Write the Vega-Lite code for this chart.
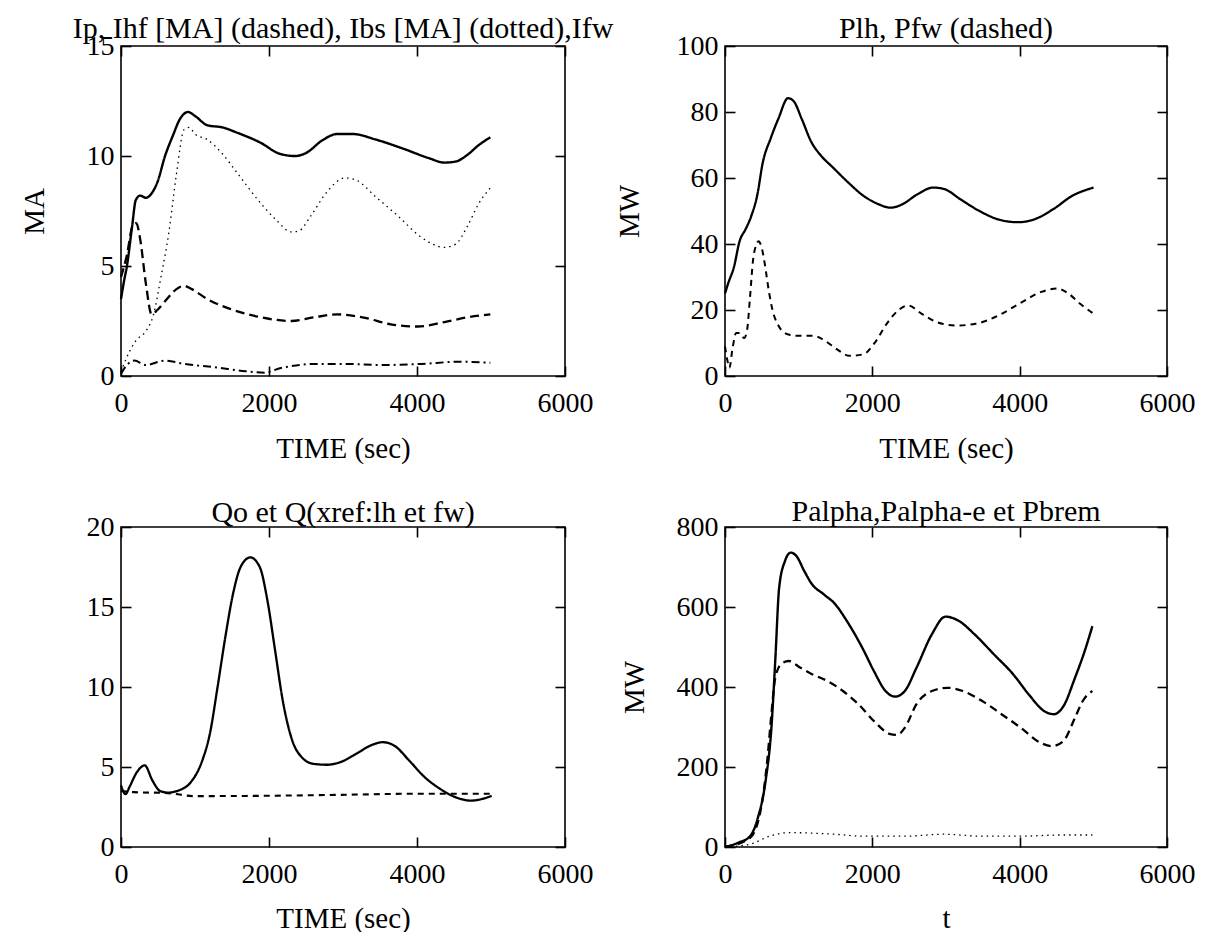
{
 "$schema": "https://vega.github.io/schema/vega-lite/v6.json",
 "background": "white",
 "padding": {"left": 19, "top": 13, "right": 5, "bottom": 0},
 "config": {
  "font": "Liberation Serif",
  "view": {"stroke": "black", "strokeWidth": 1.6},
  "axis": {"labelFont": "Liberation Serif", "labelFontSize": 28, "labelColor": "black", "titleFont": "Liberation Serif", "titleFontSize": 29, "titleFontWeight": "normal", "titleColor": "black", "domain": false, "grid": false, "tickColor": "black", "tickWidth": 1.6, "tickSize": -10, "labelFlush": false, "labelOverlap": false, "format": "d"},
  "axisX": {"labelPadding": 23},
  "axisY": {"labelPadding": 17},
  "title": {"font": "Liberation Serif", "fontSize": 30, "fontWeight": "normal", "color": "black"},
  "line": {"color": "black"}
 },
 "datasets": {
  "p1": [
   {"t":0,"v":3.5,"s":"Ip"},{"t":40,"v":4.3,"s":"Ip"},{"t":80,"v":5.0,"s":"Ip"},{"t":150,"v":6.8,"s":"Ip"},{"t":200,"v":8.0,"s":"Ip"},{"t":260,"v":8.2,"s":"Ip"},{"t":336,"v":8.1,"s":"Ip"},{"t":414,"v":8.3,"s":"Ip"},{"t":491,"v":8.8,"s":"Ip"},{"t":595,"v":10.0,"s":"Ip"},{"t":698,"v":10.9,"s":"Ip"},{"t":800,"v":11.7,"s":"Ip"},{"t":905,"v":12.0,"s":"Ip"},{"t":1008,"v":11.8,"s":"Ip"},{"t":1164,"v":11.4,"s":"Ip"},{"t":1370,"v":11.3,"s":"Ip"},{"t":1577,"v":11.05,"s":"Ip"},{"t":1888,"v":10.6,"s":"Ip"},{"t":2146,"v":10.1,"s":"Ip"},{"t":2353,"v":10.0,"s":"Ip"},{"t":2508,"v":10.15,"s":"Ip"},{"t":2715,"v":10.7,"s":"Ip"},{"t":2922,"v":11.0,"s":"Ip"},{"t":3130,"v":11.0,"s":"Ip"},{"t":3440,"v":10.75,"s":"Ip"},{"t":3800,"v":10.35,"s":"Ip"},{"t":4163,"v":9.9,"s":"Ip"},{"t":4370,"v":9.7,"s":"Ip"},{"t":4525,"v":9.75,"s":"Ip"},{"t":4680,"v":10.05,"s":"Ip"},{"t":4836,"v":10.5,"s":"Ip"},{"t":4991,"v":10.85,"s":"Ip"},
   {"t":0,"v":4.5,"s":"Ihf"},{"t":80,"v":5.5,"s":"Ihf"},{"t":155,"v":6.8,"s":"Ihf"},{"t":207,"v":6.95,"s":"Ihf"},{"t":260,"v":6.2,"s":"Ihf"},{"t":336,"v":4.2,"s":"Ihf"},{"t":414,"v":2.8,"s":"Ihf"},{"t":491,"v":3.0,"s":"Ihf"},{"t":595,"v":3.4,"s":"Ihf"},{"t":750,"v":3.95,"s":"Ihf"},{"t":853,"v":4.1,"s":"Ihf"},{"t":957,"v":3.95,"s":"Ihf"},{"t":1164,"v":3.5,"s":"Ihf"},{"t":1474,"v":3.05,"s":"Ihf"},{"t":1888,"v":2.67,"s":"Ihf"},{"t":2300,"v":2.5,"s":"Ihf"},{"t":2612,"v":2.67,"s":"Ihf"},{"t":2922,"v":2.8,"s":"Ihf"},{"t":3284,"v":2.65,"s":"Ihf"},{"t":3646,"v":2.35,"s":"Ihf"},{"t":4008,"v":2.25,"s":"Ihf"},{"t":4370,"v":2.45,"s":"Ihf"},{"t":4680,"v":2.67,"s":"Ihf"},{"t":4991,"v":2.8,"s":"Ihf"},
   {"t":0,"v":0.2,"s":"Ibs"},{"t":40,"v":0.55,"s":"Ibs"},{"t":200,"v":1.6,"s":"Ibs"},{"t":338,"v":2.05,"s":"Ibs"},{"t":440,"v":2.8,"s":"Ibs"},{"t":540,"v":4.5,"s":"Ibs"},{"t":646,"v":6.5,"s":"Ibs"},{"t":750,"v":9.2,"s":"Ibs"},{"t":853,"v":11.2,"s":"Ibs"},{"t":920,"v":11.3,"s":"Ibs"},{"t":1000,"v":11.0,"s":"Ibs"},{"t":1164,"v":10.75,"s":"Ibs"},{"t":1370,"v":10.1,"s":"Ibs"},{"t":1577,"v":9.2,"s":"Ibs"},{"t":1888,"v":7.85,"s":"Ibs"},{"t":2095,"v":7.1,"s":"Ibs"},{"t":2300,"v":6.55,"s":"Ibs"},{"t":2405,"v":6.6,"s":"Ibs"},{"t":2560,"v":7.25,"s":"Ibs"},{"t":2767,"v":8.3,"s":"Ibs"},{"t":3026,"v":9.0,"s":"Ibs"},{"t":3180,"v":8.9,"s":"Ibs"},{"t":3440,"v":8.15,"s":"Ibs"},{"t":3750,"v":7.25,"s":"Ibs"},{"t":4060,"v":6.3,"s":"Ibs"},{"t":4370,"v":5.85,"s":"Ibs"},{"t":4525,"v":6.0,"s":"Ibs"},{"t":4680,"v":6.8,"s":"Ibs"},{"t":4836,"v":7.85,"s":"Ibs"},{"t":4991,"v":8.55,"s":"Ibs"},
   {"t":0,"v":0.1,"s":"Ifw"},{"t":80,"v":0.5,"s":"Ifw"},{"t":181,"v":0.7,"s":"Ifw"},{"t":336,"v":0.5,"s":"Ifw"},{"t":595,"v":0.7,"s":"Ifw"},{"t":853,"v":0.55,"s":"Ifw"},{"t":1267,"v":0.4,"s":"Ifw"},{"t":1680,"v":0.22,"s":"Ifw"},{"t":1940,"v":0.15,"s":"Ifw"},{"t":2146,"v":0.35,"s":"Ifw"},{"t":2663,"v":0.55,"s":"Ifw"},{"t":3026,"v":0.55,"s":"Ifw"},{"t":3543,"v":0.5,"s":"Ifw"},{"t":4060,"v":0.55,"s":"Ifw"},{"t":4577,"v":0.65,"s":"Ifw"},{"t":4991,"v":0.6,"s":"Ifw"}
  ],
  "p2": [
   {"t":0,"v":25,"s":"Plh"},{"t":42,"v":28,"s":"Plh"},{"t":121,"v":33,"s":"Plh"},{"t":200,"v":41,"s":"Plh"},{"t":278,"v":44.4,"s":"Plh"},{"t":357,"v":48.5,"s":"Plh"},{"t":436,"v":54.6,"s":"Plh"},{"t":514,"v":64.8,"s":"Plh"},{"t":620,"v":72,"s":"Plh"},{"t":725,"v":78,"s":"Plh"},{"t":856,"v":84.2,"s":"Plh"},{"t":935,"v":83.2,"s":"Plh"},{"t":1040,"v":78,"s":"Plh"},{"t":1170,"v":71,"s":"Plh"},{"t":1302,"v":66.8,"s":"Plh"},{"t":1460,"v":63.3,"s":"Plh"},{"t":1670,"v":58.7,"s":"Plh"},{"t":1880,"v":54.6,"s":"Plh"},{"t":2090,"v":52,"s":"Plh"},{"t":2247,"v":51,"s":"Plh"},{"t":2404,"v":52,"s":"Plh"},{"t":2614,"v":55.1,"s":"Plh"},{"t":2825,"v":57.1,"s":"Plh"},{"t":2982,"v":56.6,"s":"Plh"},{"t":3192,"v":53.6,"s":"Plh"},{"t":3454,"v":50,"s":"Plh"},{"t":3717,"v":47.4,"s":"Plh"},{"t":3980,"v":46.6,"s":"Plh"},{"t":4190,"v":47.4,"s":"Plh"},{"t":4452,"v":50.5,"s":"Plh"},{"t":4714,"v":54.6,"s":"Plh"},{"t":5003,"v":57.1,"s":"Plh"},
   {"t":0,"v":9,"s":"Pfw"},{"t":30,"v":5,"s":"Pfw"},{"t":60,"v":2.5,"s":"Pfw"},{"t":100,"v":8,"s":"Pfw"},{"t":150,"v":13,"s":"Pfw"},{"t":200,"v":13,"s":"Pfw"},{"t":260,"v":11.5,"s":"Pfw"},{"t":300,"v":14,"s":"Pfw"},{"t":340,"v":24,"s":"Pfw"},{"t":380,"v":35,"s":"Pfw"},{"t":420,"v":39.5,"s":"Pfw"},{"t":455,"v":40.8,"s":"Pfw"},{"t":490,"v":39.5,"s":"Pfw"},{"t":540,"v":34,"s":"Pfw"},{"t":593,"v":26,"s":"Pfw"},{"t":646,"v":19.9,"s":"Pfw"},{"t":725,"v":15.3,"s":"Pfw"},{"t":830,"v":12.8,"s":"Pfw"},{"t":987,"v":12.2,"s":"Pfw"},{"t":1197,"v":12.2,"s":"Pfw"},{"t":1355,"v":10.7,"s":"Pfw"},{"t":1512,"v":8.2,"s":"Pfw"},{"t":1696,"v":6.1,"s":"Pfw"},{"t":1880,"v":6.6,"s":"Pfw"},{"t":2037,"v":10.2,"s":"Pfw"},{"t":2194,"v":15.8,"s":"Pfw"},{"t":2352,"v":19.9,"s":"Pfw"},{"t":2483,"v":21.4,"s":"Pfw"},{"t":2667,"v":18.9,"s":"Pfw"},{"t":2877,"v":16.3,"s":"Pfw"},{"t":3140,"v":15.3,"s":"Pfw"},{"t":3400,"v":15.8,"s":"Pfw"},{"t":3717,"v":18.4,"s":"Pfw"},{"t":4032,"v":22.4,"s":"Pfw"},{"t":4295,"v":25.5,"s":"Pfw"},{"t":4505,"v":26.5,"s":"Pfw"},{"t":4662,"v":25,"s":"Pfw"},{"t":4820,"v":21.9,"s":"Pfw"},{"t":5003,"v":18.9,"s":"Pfw"}
  ],
  "p3": [
   {"t":0,"v":3.85,"s":"Qo"},{"t":62,"v":3.3,"s":"Qo"},{"t":114,"v":3.75,"s":"Qo"},{"t":218,"v":4.7,"s":"Qo"},{"t":321,"v":5.1,"s":"Qo"},{"t":425,"v":4.15,"s":"Qo"},{"t":528,"v":3.5,"s":"Qo"},{"t":632,"v":3.4,"s":"Qo"},{"t":787,"v":3.55,"s":"Qo"},{"t":943,"v":4.05,"s":"Qo"},{"t":1098,"v":5.4,"s":"Qo"},{"t":1202,"v":7.1,"s":"Qo"},{"t":1305,"v":10.0,"s":"Qo"},{"t":1409,"v":13.1,"s":"Qo"},{"t":1513,"v":15.8,"s":"Qo"},{"t":1616,"v":17.5,"s":"Qo"},{"t":1746,"v":18.1,"s":"Qo"},{"t":1875,"v":17.5,"s":"Qo"},{"t":1979,"v":15.4,"s":"Qo"},{"t":2082,"v":12.3,"s":"Qo"},{"t":2186,"v":9.15,"s":"Qo"},{"t":2315,"v":6.65,"s":"Qo"},{"t":2445,"v":5.6,"s":"Qo"},{"t":2600,"v":5.2,"s":"Qo"},{"t":2782,"v":5.14,"s":"Qo"},{"t":2963,"v":5.3,"s":"Qo"},{"t":3170,"v":5.8,"s":"Qo"},{"t":3377,"v":6.35,"s":"Qo"},{"t":3533,"v":6.55,"s":"Qo"},{"t":3688,"v":6.35,"s":"Qo"},{"t":3895,"v":5.4,"s":"Qo"},{"t":4103,"v":4.37,"s":"Qo"},{"t":4310,"v":3.64,"s":"Qo"},{"t":4517,"v":3.12,"s":"Qo"},{"t":4724,"v":2.9,"s":"Qo"},{"t":4880,"v":3.0,"s":"Qo"},{"t":5009,"v":3.2,"s":"Qo"},
   {"t":0,"v":3.5,"s":"Q"},{"t":166,"v":3.43,"s":"Q"},{"t":632,"v":3.37,"s":"Q"},{"t":995,"v":3.18,"s":"Q"},{"t":1927,"v":3.2,"s":"Q"},{"t":2963,"v":3.26,"s":"Q"},{"t":4000,"v":3.33,"s":"Q"},{"t":4517,"v":3.33,"s":"Q"},{"t":5009,"v":3.33,"s":"Q"}
  ],
  "p4": [
   {"t":0,"v":0,"s":"Palpha"},{"t":184,"v":11,"s":"Palpha"},{"t":341,"v":27,"s":"Palpha"},{"t":446,"v":73,"s":"Palpha"},{"t":551,"v":165,"s":"Palpha"},{"t":630,"v":298,"s":"Palpha"},{"t":682,"v":465,"s":"Palpha"},{"t":735,"v":648,"s":"Palpha"},{"t":814,"v":715,"s":"Palpha"},{"t":892,"v":736,"s":"Palpha"},{"t":971,"v":727,"s":"Palpha"},{"t":1076,"v":690,"s":"Palpha"},{"t":1181,"v":657,"s":"Palpha"},{"t":1339,"v":632,"s":"Palpha"},{"t":1496,"v":607,"s":"Palpha"},{"t":1654,"v":565,"s":"Palpha"},{"t":1864,"v":498,"s":"Palpha"},{"t":2021,"v":440,"s":"Palpha"},{"t":2179,"v":390,"s":"Palpha"},{"t":2310,"v":376,"s":"Palpha"},{"t":2441,"v":390,"s":"Palpha"},{"t":2599,"v":448,"s":"Palpha"},{"t":2809,"v":532,"s":"Palpha"},{"t":2993,"v":576,"s":"Palpha"},{"t":3176,"v":565,"s":"Palpha"},{"t":3386,"v":532,"s":"Palpha"},{"t":3649,"v":482,"s":"Palpha"},{"t":3911,"v":432,"s":"Palpha"},{"t":4121,"v":382,"s":"Palpha"},{"t":4331,"v":340,"s":"Palpha"},{"t":4462,"v":332,"s":"Palpha"},{"t":4594,"v":352,"s":"Palpha"},{"t":4751,"v":423,"s":"Palpha"},{"t":4883,"v":490,"s":"Palpha"},{"t":4987,"v":552,"s":"Palpha"},
   {"t":0,"v":0,"s":"Palpha-e"},{"t":341,"v":23,"s":"Palpha-e"},{"t":499,"v":107,"s":"Palpha-e"},{"t":577,"v":223,"s":"Palpha-e"},{"t":630,"v":332,"s":"Palpha-e"},{"t":682,"v":423,"s":"Palpha-e"},{"t":761,"v":457,"s":"Palpha-e"},{"t":866,"v":465,"s":"Palpha-e"},{"t":1024,"v":448,"s":"Palpha-e"},{"t":1181,"v":432,"s":"Palpha-e"},{"t":1391,"v":415,"s":"Palpha-e"},{"t":1601,"v":390,"s":"Palpha-e"},{"t":1811,"v":357,"s":"Palpha-e"},{"t":2021,"v":315,"s":"Palpha-e"},{"t":2231,"v":283,"s":"Palpha-e"},{"t":2336,"v":280,"s":"Palpha-e"},{"t":2441,"v":298,"s":"Palpha-e"},{"t":2599,"v":357,"s":"Palpha-e"},{"t":2809,"v":390,"s":"Palpha-e"},{"t":3019,"v":398,"s":"Palpha-e"},{"t":3229,"v":390,"s":"Palpha-e"},{"t":3491,"v":365,"s":"Palpha-e"},{"t":3754,"v":332,"s":"Palpha-e"},{"t":4016,"v":298,"s":"Palpha-e"},{"t":4279,"v":261,"s":"Palpha-e"},{"t":4436,"v":252,"s":"Palpha-e"},{"t":4594,"v":265,"s":"Palpha-e"},{"t":4751,"v":323,"s":"Palpha-e"},{"t":4856,"v":365,"s":"Palpha-e"},{"t":4987,"v":390,"s":"Palpha-e"},
   {"t":0,"v":0,"s":"Pbrem"},{"t":341,"v":7,"s":"Pbrem"},{"t":604,"v":27,"s":"Pbrem"},{"t":866,"v":36,"s":"Pbrem"},{"t":1391,"v":33,"s":"Pbrem"},{"t":1916,"v":27,"s":"Pbrem"},{"t":2441,"v":27,"s":"Pbrem"},{"t":2966,"v":32,"s":"Pbrem"},{"t":3491,"v":27,"s":"Pbrem"},{"t":4016,"v":27,"s":"Pbrem"},{"t":4541,"v":30,"s":"Pbrem"},{"t":4987,"v":30,"s":"Pbrem"}
  ]
 },
 "columns": 2,
 "bounds": "flush",
 "spacing": {"row": 151, "column": 160},
 "concat": [
  {
   "width": 444, "height": 330,
   "title": {"text": "Ip, Ihf [MA] (dashed), Ibs [MA] (dotted),Ifw", "offset": -12},
   "data": {"name": "p1"},
   "layer": [
    {"mark": {"type": "line", "interpolate": "monotone"},
     "encoding": {
      "x": {"field": "t", "type": "quantitative", "scale": {"domain": [0, 6000], "nice": false}, "axis": {"values": [0, 2000, 4000, 6000], "title": "TIME (sec)", "titlePadding": 0, "minExtent": 58, "maxExtent": 58}},
      "y": {"field": "v", "type": "quantitative", "scale": {"domain": [0, 15], "nice": false}, "axis": {"values": [0, 5, 10, 15], "title": "MA", "titlePadding": 0, "minExtent": 72, "maxExtent": 72}},
      "strokeDash": {"field": "s", "type": "nominal", "scale": {"domain": ["Ip","Ihf","Ibs","Ifw","Plh","Pfw","Qo","Q","Palpha","Palpha-e","Pbrem"], "range": [[1,0],[9,5],[1.5,4],[8,4,2,4],[1,0],[6,5],[1,0],[6,5],[1,0],[8,5],[1.5,4]]}, "legend": null},
      "strokeWidth": {"field": "s", "type": "ordinal", "scale": {"type": "ordinal", "domain": ["Ip","Ihf","Ibs","Ifw","Plh","Pfw","Qo","Q","Palpha","Palpha-e","Pbrem"], "range": [2.4,2.3,1.3,2.0,2.3,2.0,2.3,2.1,2.4,2.3,1.3]}, "legend": null}
     }},
    {"mark": {"type": "line", "opacity": 0},
     "encoding": {
      "x": {"field": "t", "type": "quantitative", "axis": {"orient": "top", "values": [0, 2000, 4000, 6000], "labels": false, "title": null}},
      "y": {"field": "v", "type": "quantitative", "axis": {"orient": "right", "values": [0, 5, 10, 15], "labels": false, "title": null}}
     }}
   ],
   "resolve": {"axis": {"x": "independent", "y": "independent"}}
  },
  {
   "width": 442, "height": 330,
   "title": {"text": "Plh, Pfw (dashed)", "offset": -12},
   "data": {"name": "p2"},
   "layer": [
    {"mark": {"type": "line", "interpolate": "monotone"},
     "encoding": {
      "x": {"field": "t", "type": "quantitative", "scale": {"domain": [0, 6000], "nice": false}, "axis": {"values": [0, 2000, 4000, 6000], "title": "TIME (sec)", "titlePadding": 0, "minExtent": 58, "maxExtent": 58}},
      "y": {"field": "v", "type": "quantitative", "scale": {"domain": [0, 100], "nice": false}, "axis": {"values": [0, 20, 40, 60, 80, 100], "title": "MW", "titlePadding": 0, "minExtent": 81, "maxExtent": 81}},
      "strokeDash": {"field": "s", "type": "nominal", "scale": {"domain": ["Ip","Ihf","Ibs","Ifw","Plh","Pfw","Qo","Q","Palpha","Palpha-e","Pbrem"], "range": [[1,0],[9,5],[1.5,4],[8,4,2,4],[1,0],[6,5],[1,0],[6,5],[1,0],[8,5],[1.5,4]]}, "legend": null},
      "strokeWidth": {"field": "s", "type": "ordinal", "scale": {"type": "ordinal", "domain": ["Ip","Ihf","Ibs","Ifw","Plh","Pfw","Qo","Q","Palpha","Palpha-e","Pbrem"], "range": [2.4,2.3,1.3,2.0,2.3,2.0,2.3,2.1,2.4,2.3,1.3]}, "legend": null}
     }},
    {"mark": {"type": "line", "opacity": 0},
     "encoding": {
      "x": {"field": "t", "type": "quantitative", "axis": {"orient": "top", "values": [0, 2000, 4000, 6000], "labels": false, "title": null}},
      "y": {"field": "v", "type": "quantitative", "axis": {"orient": "right", "values": [0, 20, 40, 60, 80, 100], "labels": false, "title": null}}
     }}
   ],
   "resolve": {"axis": {"x": "independent", "y": "independent"}}
  },
  {
   "width": 444, "height": 320,
   "title": {"text": "Qo et Q(xref:lh et fw)", "offset": -15},
   "data": {"name": "p3"},
   "layer": [
    {"mark": {"type": "line", "interpolate": "monotone"},
     "encoding": {
      "x": {"field": "t", "type": "quantitative", "scale": {"domain": [0, 6000], "nice": false}, "axis": {"values": [0, 2000, 4000, 6000], "title": "TIME (sec)", "titlePadding": 0, "minExtent": 57, "maxExtent": 57}},
      "y": {"field": "v", "type": "quantitative", "scale": {"domain": [0, 20], "nice": false}, "axis": {"values": [0, 5, 10, 15, 20], "title": null}},
      "strokeDash": {"field": "s", "type": "nominal", "scale": {"domain": ["Ip","Ihf","Ibs","Ifw","Plh","Pfw","Qo","Q","Palpha","Palpha-e","Pbrem"], "range": [[1,0],[9,5],[1.5,4],[8,4,2,4],[1,0],[6,5],[1,0],[6,5],[1,0],[8,5],[1.5,4]]}, "legend": null},
      "strokeWidth": {"field": "s", "type": "ordinal", "scale": {"type": "ordinal", "domain": ["Ip","Ihf","Ibs","Ifw","Plh","Pfw","Qo","Q","Palpha","Palpha-e","Pbrem"], "range": [2.4,2.3,1.3,2.0,2.3,2.0,2.3,2.1,2.4,2.3,1.3]}, "legend": null}
     }},
    {"mark": {"type": "line", "opacity": 0},
     "encoding": {
      "x": {"field": "t", "type": "quantitative", "axis": {"orient": "top", "values": [0, 2000, 4000, 6000], "labels": false, "title": null}},
      "y": {"field": "v", "type": "quantitative", "axis": {"orient": "right", "values": [0, 5, 10, 15, 20], "labels": false, "title": null}}
     }}
   ],
   "resolve": {"axis": {"x": "independent", "y": "independent"}}
  },
  {
   "width": 442, "height": 320,
   "title": {"text": "Palpha,Palpha-e et Pbrem", "offset": -14},
   "data": {"name": "p4"},
   "layer": [
    {"mark": {"type": "line", "interpolate": "monotone"},
     "encoding": {
      "x": {"field": "t", "type": "quantitative", "scale": {"domain": [0, 6000], "nice": false}, "axis": {"values": [0, 2000, 4000, 6000], "title": "t", "titlePadding": 0, "minExtent": 57, "maxExtent": 57}},
      "y": {"field": "v", "type": "quantitative", "scale": {"domain": [0, 800], "nice": false}, "axis": {"values": [0, 200, 400, 600, 800], "title": "MW", "titlePadding": 0, "minExtent": 76, "maxExtent": 76}},
      "strokeDash": {"field": "s", "type": "nominal", "scale": {"domain": ["Ip","Ihf","Ibs","Ifw","Plh","Pfw","Qo","Q","Palpha","Palpha-e","Pbrem"], "range": [[1,0],[9,5],[1.5,4],[8,4,2,4],[1,0],[6,5],[1,0],[6,5],[1,0],[8,5],[1.5,4]]}, "legend": null},
      "strokeWidth": {"field": "s", "type": "ordinal", "scale": {"type": "ordinal", "domain": ["Ip","Ihf","Ibs","Ifw","Plh","Pfw","Qo","Q","Palpha","Palpha-e","Pbrem"], "range": [2.4,2.3,1.3,2.0,2.3,2.0,2.3,2.1,2.4,2.3,1.3]}, "legend": null}
     }},
    {"mark": {"type": "line", "opacity": 0},
     "encoding": {
      "x": {"field": "t", "type": "quantitative", "axis": {"orient": "top", "values": [0, 2000, 4000, 6000], "labels": false, "title": null}},
      "y": {"field": "v", "type": "quantitative", "axis": {"orient": "right", "values": [0, 200, 400, 600, 800], "labels": false, "title": null}}
     }}
   ],
   "resolve": {"axis": {"x": "independent", "y": "independent"}}
  }
 ]
}
